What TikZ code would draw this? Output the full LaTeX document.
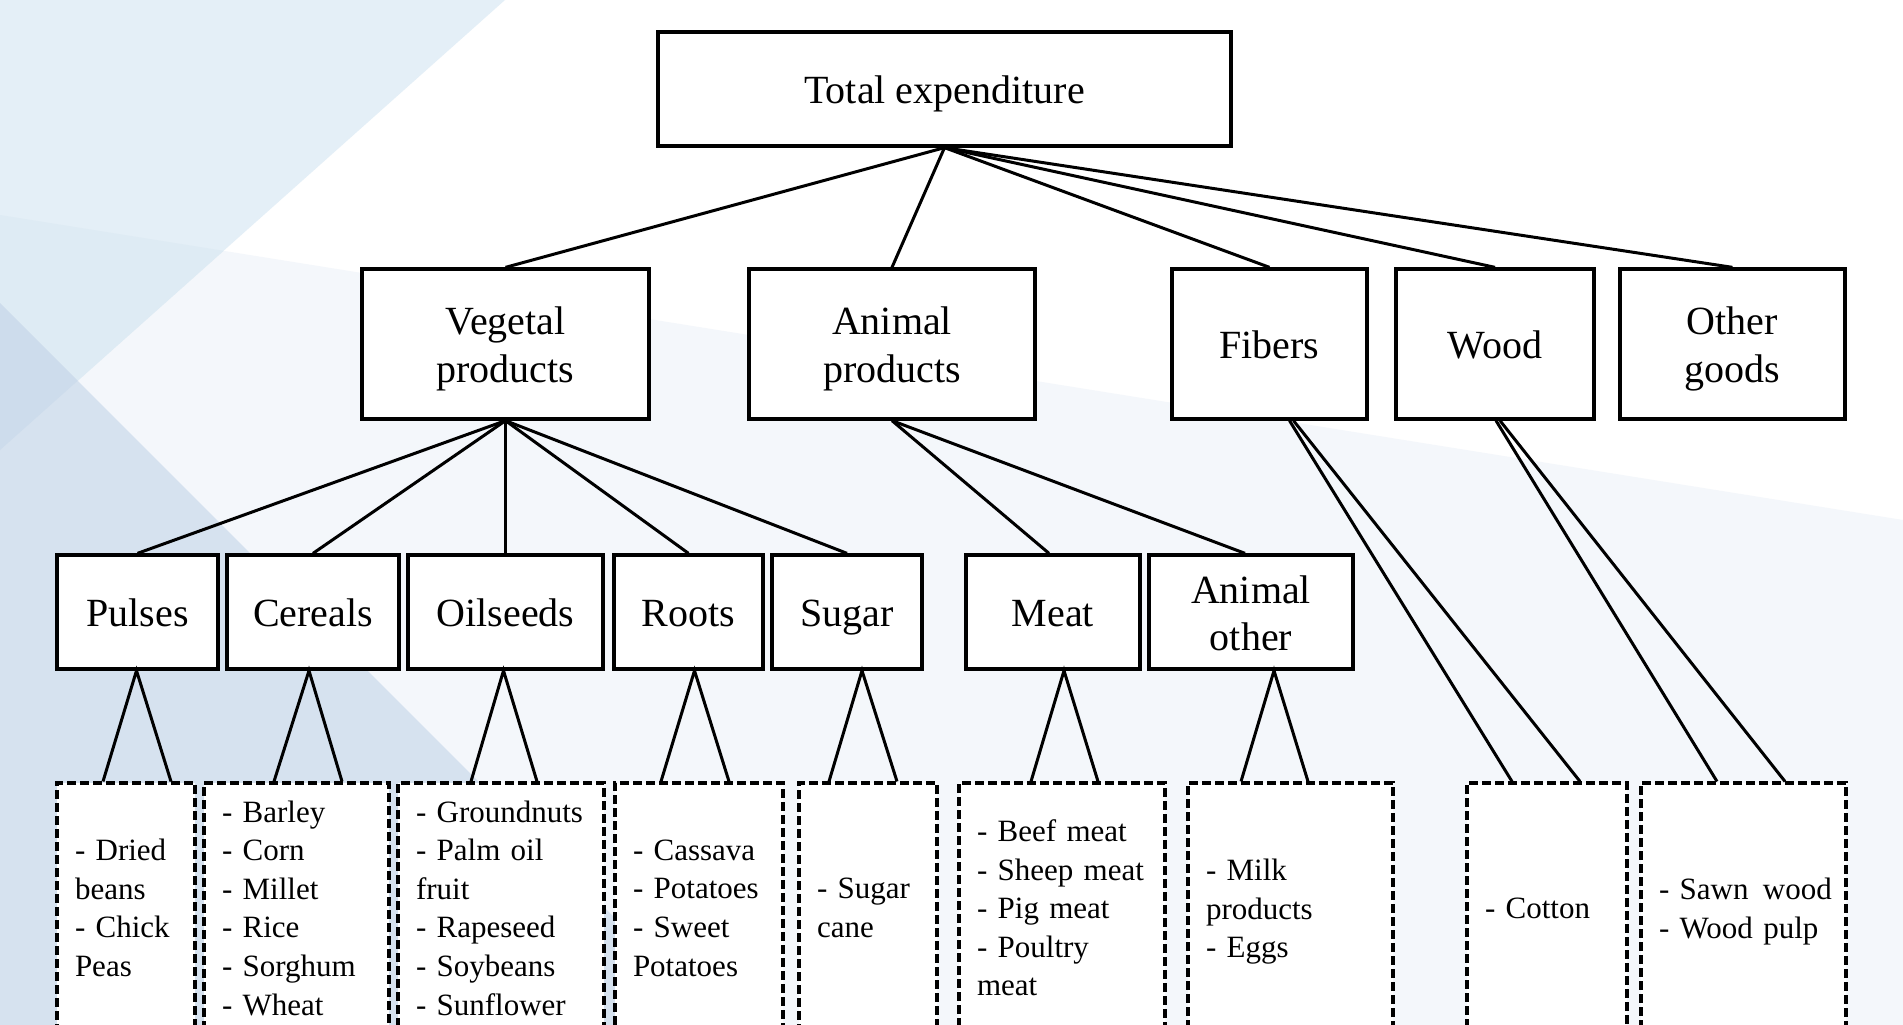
\documentclass[tikz,border=0pt]{standalone}
\usepackage{fontspec}
\setmainfont{Liberation Serif}
\definecolor{bgA}{HTML}{E4EFF7}
\definecolor{bgAC}{HTML}{DEEBF4}
\definecolor{bgB}{HTML}{D6E2EF}
\definecolor{bgAB}{HTML}{CDDCEC}
\definecolor{bgC}{HTML}{F4F7FB}
\newcommand{\bst}{\rule[-9pt]{0pt}{47pt}}
\begin{document}
\begin{tikzpicture}[x=1pt,y=-1pt,
  box/.style={draw=black, line width=3.3pt, fill=white, align=center, inner sep=0pt, font=\fontsize{40}{48}\selectfont},
  lst/.style={draw=black, line width=3.1pt, dash pattern=on 9pt off 4pt, fill=white, align=left, inner xsep=18pt, inner ysep=0pt, minimum height=250pt, font=\fontsize{31}{38.6}\selectfont},
  link/.style={line width=3pt}]
\useasboundingbox (0,0) rectangle (1903,1025);
% background
\fill[white] (0,0) rectangle (1903,1025);
\fill[bgC] (0,215) -- (1903,520) -- (1903,1025) -- (0,1025) -- cycle;
\fill[bgA] (0,0) -- (505,0) -- (0,450) -- cycle;
\fill[bgAC] (0,215) -- (223.6,250.8) -- (0,450) -- cycle;
\fill[bgB] (0,303) -- (722,1025) -- (0,1025) -- cycle;
\fill[bgAB] (0,303) -- (77.7,380.7) -- (0,450) -- cycle;
% level 1
\node[box, minimum width=573pt, minimum height=114pt] (total) at (944.5,89) {\bst Total expenditure};
% level 2
\node[box, minimum width=287pt, minimum height=150pt] (veg) at (505.5,344) {\bst Vegetal\\\bst products};
\node[box, minimum width=286pt, minimum height=150pt] (ani) at (892,344) {\bst Animal\\\bst products};
\node[box, minimum width=195pt, minimum height=150pt] (fib) at (1269.5,344) {\bst Fibers};
\node[box, minimum width=198pt, minimum height=150pt] (wood) at (1495,344) {\bst Wood};
\node[box, minimum width=225pt, minimum height=150pt] (oth) at (1732.5,344) {\bst Other\\\bst goods};
% level 3
\node[box, minimum width=161pt, minimum height=114pt] (pul) at (137.5,612) {\bst Pulses};
\node[box, minimum width=172pt, minimum height=114pt] (cer) at (313,612) {\bst Cereals};
\node[box, minimum width=195pt, minimum height=114pt] (oil) at (505.5,612) {\bst Oilseeds};
\node[box, minimum width=149pt, minimum height=114pt] (roo) at (688.5,612) {\bst Roots};
\node[box, minimum width=150pt, minimum height=114pt] (sug) at (847,612) {\bst Sugar};
\node[box, minimum width=174pt, minimum height=114pt] (mea) at (1053,612) {\bst Meat};
\node[box, minimum width=204pt, minimum height=114pt, font=\fontsize{40}{47}\selectfont] (aot) at (1251,612) {\bst Animal\\\bst other};
% level 4
\node[lst, text width=102pt] (lpul) at (126,908) {-~Dried\\beans\\-~Chick\\Peas};
\node[lst, text width=149pt] (lcer) at (296.5,908) {-~Barley\\-~Corn\\-~Millet\\-~Rice\\-~Sorghum\\-~Wheat};
\node[lst, text width=170pt] (loil) at (501,908) {-~Groundnuts\\-~Palm oil\\fruit\\-~Rapeseed\\-~Soybeans\\-~Sunflower};
\node[lst, text width=132pt] (lroo) at (699,908) {-~Cassava\\-~Potatoes\\-~Sweet\\Potatoes};
\node[lst, text width=102pt] (lsug) at (868,908) {-~Sugar\\cane};
\node[lst, text width=170pt] (lmea) at (1062,908) {-~Beef meat\\-~Sheep meat\\-~Pig meat\\-~Poultry\\meat};
\node[lst, text width=169pt] (lano) at (1290.5,908) {\rule{0pt}{29pt}-~Milk\\products\\-~Eggs};
\node[lst, text width=124pt] (lcot) at (1547,908) {-~Cotton};
\node[lst, text width=169pt] (lwoo) at (1743.5,908) {\rule{0pt}{28.5pt}\mbox{-~Sawn~\hspace{4pt}wood}\\\mbox{-~Wood~pulp}};
% connectors level 1 -> 2
\draw[link] (total.south) -- (veg.north);
\draw[link] (total.south) -- (ani.north);
\draw[link] (total.south) -- (fib.north);
\draw[link] (total.south) -- (wood.north);
\draw[link] (total.south) -- (oth.north);
% level 2 -> 3
\draw[link] (veg.south) -- (pul.north);
\draw[link] (veg.south) -- (cer.north);
\draw[link] (veg.south) -- (oil.north);
\draw[link] (veg.south) -- (roo.north);
\draw[link] (veg.south) -- (sug.north);
\draw[link] (ani.south) -- ([xshift=-4pt]mea.north);
\draw[link] (ani.south) -- ([xshift=-6pt]aot.north);
% level 3 -> 4
\draw[link] ([xshift=-23pt]lpul.north) -- ([xshift=-1pt]pul.south) -- ([xshift=45pt]lpul.north);
\draw[link] ([xshift=-22.5pt]lcer.north) -- ([xshift=-4pt]cer.south) -- ([xshift=45.5pt]lcer.north);
\draw[link] ([xshift=-30pt]loil.north) -- ([xshift=-2pt]oil.south) -- ([xshift=36pt]loil.north);
\draw[link] ([xshift=-38pt]lroo.north) -- ([xshift=6pt]roo.south) -- ([xshift=30pt]lroo.north);
\draw[link] ([xshift=-39pt]lsug.north) -- ([xshift=15pt]sug.south) -- ([xshift=29pt]lsug.north);
\draw[link] ([xshift=-31pt]lmea.north) -- ([xshift=11pt]mea.south) -- ([xshift=36pt]lmea.north);
\draw[link] ([xshift=-49.5pt]lano.north) -- ([xshift=23pt]aot.south) -- ([xshift=17.5pt]lano.north);
\draw[link] ([xshift=20pt]fib.south) -- ([xshift=-35pt]lcot.north);
\draw[link] ([xshift=24pt]fib.south) -- ([xshift=33pt]lcot.north);
\draw[link] ([xshift=1pt]wood.south) -- ([xshift=-26.5pt]lwoo.north);
\draw[link] ([xshift=5pt]wood.south) -- ([xshift=41.5pt]lwoo.north);
\end{tikzpicture}
\end{document}
